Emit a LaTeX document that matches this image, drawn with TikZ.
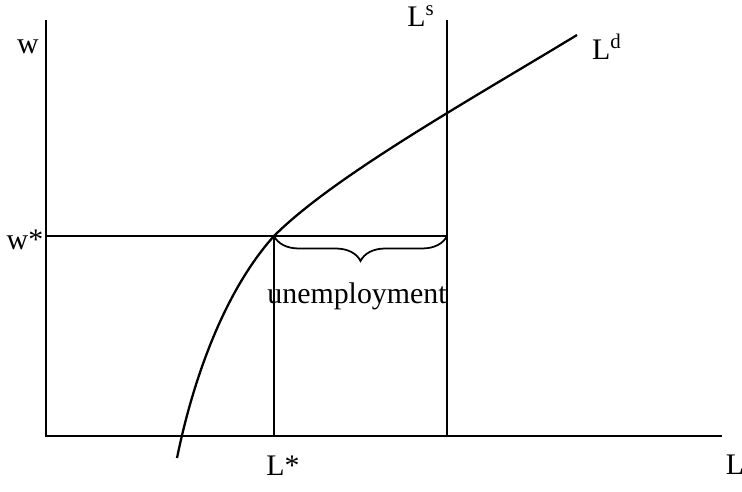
\documentclass[tikz,border=0pt]{standalone}
\usepackage{fontspec}
\setmainfont{Liberation Serif}
\usetikzlibrary{decorations.pathreplacing}

\begin{document}
\begin{tikzpicture}[x=0.02cm,y=-0.02cm,
	every node/.style={font=\fontsize{17}{20}\selectfont},
	axis/.style={line width=1.1pt},
	curve/.style={line width=1.3pt}]

	\useasboundingbox (0,0) rectangle (742,492);

	% axes
	\coordinate (O) at (46,436);
	\coordinate (top) at (46,20);
	\coordinate (right) at (722,436);
	\draw[axis] (top) -- (O) -- (right);
	\node (w) at (28,47) {w};
	\node (L) at (735,465) {L};

	% labour supply
	\coordinate (ls0) at (447,436);
	\coordinate (ls1) at (447,20);
	\draw[axis] (ls0) -- (ls1);
	\node (Ls) at (421,16) {L\textsuperscript{s}};

	% equilibrium
	\coordinate (E) at (274,236);
	\coordinate (wls) at (447,236);
	\coordinate (lstar) at (274,436);
	\draw[axis] (O |- E) -- (wls);
	\draw[axis] (E) -- (lstar);
	\node (ws) at (25,240) {w*};
	\node (Lst) at (283,466) {L*};

	% labour demand
	\coordinate (ld0) at (177,458);
	\coordinate (ld1) at (577,35);
	\draw[curve] (ld0) .. controls (195,370) and (228,287) .. (E)
		.. controls (334,176) and (470,100) .. (ld1);
	\node (Ld) at (607,47) {L\textsuperscript{d}};

	% unemployment
	\draw[line width=1pt,decorate,decoration={brace,mirror,amplitude=0.5cm}] (E) -- (wls);
	\node (u) at (357,296) {unemployment};
\end{tikzpicture}
\end{document}
